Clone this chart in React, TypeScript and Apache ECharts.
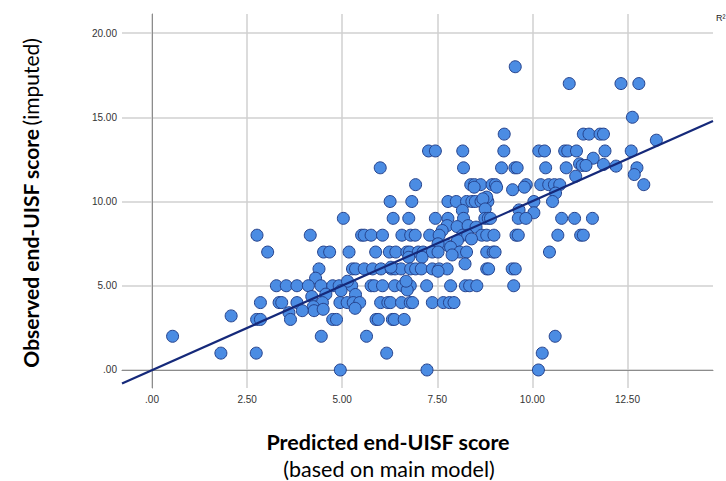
import React, { useEffect, useRef } from "react";
import * as echarts from "echarts";

// Predicted end-UISF score (x) and observed end-UISF score (imputed) (y)
const predicted: number[] = [
  9.55, 10.97, 12.33, 12.8, 12.63, 9.26, 11.34, 11.49, 11.78, 11.87, 13.26,
  7.27, 7.45, 8.17, 9.25, 10.17, 10.32, 10.85, 10.93, 11.16, 11.91, 12.6,
  11.6, 11.24, 11.31, 11.41, 12.2, 11.87, 12.75, 12.68, 11.14,
  6.0, 8.19, 9.19, 9.54, 9.6, 10.35, 10.89,
  6.93, 8.38, 8.48, 8.64, 8.94, 9.03, 9.84, 10.22, 10.43, 10.58, 10.72, 12.93,
  9.48, 9.79, 9.06, 10.61, 8.47,
  6.26, 6.83, 7.78, 8.0, 8.27, 8.41, 8.5, 8.65, 8.83, 10.04, 10.53,
  8.8, 8.7, 8.76, 8.16, 9.65, 10.04,
  5.03, 6.34, 6.75, 7.45, 7.78, 8.19, 8.75, 8.84, 8.9, 9.63, 9.83, 10.77, 11.11, 11.58,
  7.76, 8.02, 8.31, 8.52, 7.63,
  2.76, 4.16, 5.51, 5.58, 5.76, 6.06, 6.57, 6.8, 6.92, 7.3, 7.55, 8.17, 8.3, 8.67, 8.8, 8.99, 9.57, 9.63, 10.67, 11.27, 11.34,
  8.03, 8.4, 7.78, 7.85, 7.52,
  3.04, 4.51, 4.67, 5.18, 5.88, 6.24, 6.41, 6.7, 6.77, 7.0, 7.13, 7.37, 7.52, 8.09, 8.27, 8.8, 8.97, 9.02, 10.45,
  7.1, 7.89, 8.23, 6.75,
  4.39, 5.27, 5.35, 5.58, 5.8, 6.02, 6.29, 6.39, 6.55, 6.8, 6.93, 7.08, 7.37, 7.55, 7.76, 8.8, 8.85, 9.47, 9.55,
  7.52, 4.3, 6.28,
  3.27, 3.53, 3.81, 4.11, 4.44, 4.75, 4.92, 5.25, 5.76, 5.84, 6.06, 6.38, 6.59, 6.79, 7.22, 7.85, 8.24, 8.35, 8.54, 9.51,
  5.14, 4.57, 4.2, 4.97, 5.35, 6.71, 6.68,
  2.85, 3.34, 3.41, 3.81, 4.48, 4.94, 5.13, 5.29, 5.46, 6.01, 6.2, 6.27, 6.56, 6.79, 6.85, 7.37, 7.66, 7.82, 7.94,
  4.24, 4.26, 4.5, 5.34, 3.6, 3.95,
  2.75, 2.85, 3.64, 4.75, 4.85, 5.89, 5.95, 6.32, 6.37, 6.63,
  0.54, 4.45, 5.64, 10.6, 2.08,
  1.81, 2.74, 6.17, 10.26,
  4.95, 7.23, 10.16,
];

const observed: number[] = [
  18, 17, 17, 17, 15, 14, 14, 14, 14, 14, 13.64,
  13, 13, 13, 13, 13, 13, 13, 13, 13, 13, 13,
  12.57, 12.24, 12.14, 12.14, 12.1, 12.2, 12.0, 11.6, 11.5,
  12, 12, 12, 12, 12, 12, 12,
  11, 11, 11, 11, 11, 11, 11, 11, 11, 11, 11, 11,
  10.7, 10.85, 10.85, 10.5, 10.85,
  10, 10, 10, 10, 10, 10, 10, 10, 10, 10, 10,
  10.26, 10.16, 9.56, 9.47, 9.5, 9.33,
  9, 9, 9, 9, 9, 9, 9, 9, 9, 9, 9, 9, 9, 9,
  8.57, 8.51, 8.57, 8.48, 8.28,
  8, 8, 8, 8, 8, 8, 8, 8, 8, 8, 8, 8, 8, 8, 8, 8, 8, 8, 8, 8, 8,
  7.68, 7.78, 7.39, 7.29, 7.49,
  7, 7, 7, 7, 7, 7, 7, 7, 7, 7, 7, 7, 7, 7, 7, 7, 7, 7, 7,
  6.69, 6.83, 6.3, 6.69,
  6, 6, 6, 6, 6, 6, 6, 6, 6, 6, 6, 6, 6, 6, 6, 6, 6, 6, 6,
  5.86, 5.45, 6.1,
  5, 5, 5, 5, 5, 5, 5, 5, 5, 5, 5, 5, 5, 5, 5, 5, 5, 5, 5, 5,
  5.27, 4.5, 4.36, 4.71, 4.48, 4.75, 5.27,
  4, 4, 4, 4, 4, 4, 4, 4, 4, 4, 4, 4, 4, 4, 4, 4, 4, 4, 4,
  3.76, 3.52, 3.6, 3.66, 3.4, 3.52,
  3, 3, 3, 3, 3, 3, 3, 3, 3, 3,
  2, 2, 2, 2, 3.21,
  1, 1, 1, 1,
  0, 0, 0,
];

// Fit line end points
const fitX: number[] = [-0.79, 14.75];
const fitY: number[] = [-0.8, 14.78];

const xTicks: number[] = [0, 2.5, 5, 7.5, 10, 12.5];
const yTicks: number[] = [0, 5, 10, 15, 20];

const fmt = (v: number) => (v === 0 ? ".00" : v.toFixed(2));

export default function App() {
  const ref = useRef<HTMLDivElement>(null);
  useEffect(() => {
    if (!ref.current) return;
    const chart = echarts.init(ref.current, null, { renderer: "svg" });
    const points = predicted.map((x, i) => [x, observed[i]]);
    const fit = fitX.map((x, i) => [x, fitY[i]]);
    const gridColor = "#d0d0d0";
    chart.setOption({
      animation: false,
      backgroundColor: "#ffffff",
      grid: { left: 122, right: 13, top: 14, bottom: 93, containLabel: false },
      xAxis: {
        type: "value",
        min: -0.79,
        max: 14.75,
        axisLine: { show: true, lineStyle: { color: "#8c8c8c", width: 1 } },
        axisTick: { show: false, customValues: xTicks },
        axisLabel: {
          customValues: xTicks,
          formatter: fmt,
          color: "#333",
          fontSize: 10,
          fontFamily: "Liberation Sans",
          margin: 6,
        },
        splitLine: { show: true, lineStyle: { color: gridColor, width: 1.5 } },
      },
      yAxis: {
        type: "value",
        min: -1.07,
        max: 21.13,
        axisLine: { show: true, lineStyle: { color: "#8c8c8c", width: 1 } },
        axisTick: { show: false, customValues: yTicks },
        axisLabel: {
          customValues: yTicks,
          formatter: fmt,
          color: "#333",
          fontSize: 10,
          fontFamily: "Liberation Sans",
          margin: 5,
        },
        splitLine: { show: true, lineStyle: { color: gridColor, width: 1.5 } },
      },
      series: [
        {
          type: "scatter",
          data: points,
          symbolSize: 12,
          itemStyle: {
            color: "#4b8ce3",
            borderColor: "#25428c",
            borderWidth: 1,
            opacity: 1,
          },
          z: 2,
        },
        {
          type: "line",
          data: fit,
          symbol: "none",
          lineStyle: { color: "#15297a", width: 2.2 },
          z: 3,
        },
      ],
      graphic: [
        {
          type: "text",
          x: 30,
          y: 203,
          rotation: Math.PI / 2,
          style: {
            text: "{b|Observed end-UISF score} {n|(imputed)}",
            align: "center",
            verticalAlign: "middle",
            rich: {
              b: { fontFamily: "Lato", fontWeight: "bold", fontSize: 21, fill: "#000" },
              n: { fontFamily: "Lato", fontWeight: "normal", fontSize: 21, fill: "#000" },
            },
          },
        },
        {
          type: "text",
          x: 388,
          y: 442,
          style: {
            text: "Predicted end-UISF score",
            align: "center",
            verticalAlign: "middle",
            fontFamily: "Lato",
            fontWeight: "bold",
            fontSize: 21.5,
            fill: "#000",
          },
        },
        {
          type: "text",
          x: 389,
          y: 469,
          style: {
            text: "(based on main model)",
            align: "center",
            verticalAlign: "middle",
            fontFamily: "Lato",
            fontWeight: "normal",
            fontSize: 21.5,
            fill: "#000",
          },
        },
        {
          type: "text",
          x: 716,
          y: 13,
          style: {
            text: "R²",
            fontFamily: "Liberation Sans",
            fontSize: 9,
            fill: "#222",
          },
        },
      ],
    });
    return () => chart.dispose();
  }, []);
  return (
    <div
      ref={ref}
      style={{ position: "fixed", left: 0, top: 0, width: 726, height: 481 }}
    />
  );
}
